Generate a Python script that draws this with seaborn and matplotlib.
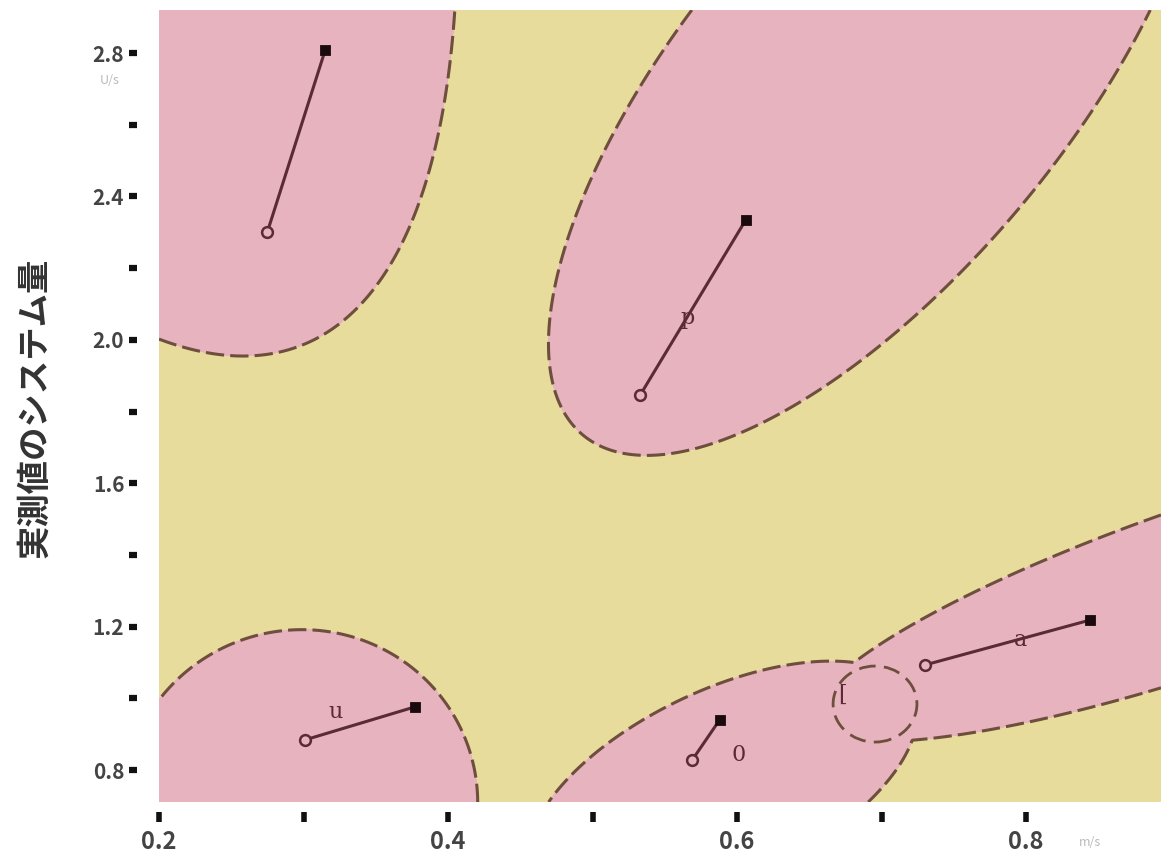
import numpy as np
import pandas as pd
import matplotlib
matplotlib.use("Agg")
import matplotlib.pyplot as plt
from matplotlib.patches import Ellipse
import seaborn as sns

# ---------------- data ----------------
# region blobs (centre x, centre y, semi-axis a, semi-axis b in x-units, angle deg)
blob_cx = [-0.0948, 0.6962, 0.2976, 0.590, 0.9278]
blob_cy = [6.030, 2.7163, 0.7024, 0.7562, 1.3155]
blob_a = [1.078, 0.317, 0.1232, 0.1453, 0.2907]
blob_b = [0.334, 0.1315, 0.1211, 0.0662, 0.0572]
blob_ang = [-68.6, 50.2, 20, 25.3, 18.8]

# segments: open start -> filled end
seg_x0 = [0.275, 0.533, 0.301, 0.569, 0.730]
seg_y0 = [2.301, 1.846, 0.884, 0.828, 1.093]
seg_x1 = [0.315, 0.606, 0.377, 0.588, 0.844]
seg_y1 = [2.808, 2.334, 0.976, 0.940, 1.218]

# point labels
lab_text = ["u", "p", "0", "a", "["]
lab_x = [0.322, 0.566, 0.601, 0.796, 0.673]
lab_y = [0.962, 2.061, 0.842, 1.163, 1.009]

# dashed circle
circ_x, circ_y, circ_w, circ_h = 0.6955, 0.984, 0.058, 0.212

x_major = [0.2, 0.4, 0.6, 0.8]
x_minor = [0.3, 0.5, 0.7]
y_major = [0.8, 1.2, 1.6, 2.0, 2.4, 2.8]
y_minor = [1.0, 1.4, 1.8, 2.2, 2.6]
xlim = (0.2, 0.8934)
ylim = (0.7108, 2.92)
ylabel = "実測値のシステム量"

PINK = "#e6b3bf"
YELLOW = "#e8dc9c"
EDGE = "#6e4e3c"
SEG = "#5a2a35"

# ---------------- figure ----------------
sns.set_theme(style="white")
plt.rcParams["font.family"] = ["Noto Sans CJK JP", "DejaVu Sans"]

fig = plt.figure(figsize=(11.61, 8.61), dpi=100)
ax = fig.add_axes([159 / 1161, 1 - 802 / 861, 1002 / 1161, 792 / 861])

aspect = 358.5 / 1445.0
gx = np.linspace(xlim[0], xlim[1], 800)
gy = np.linspace(ylim[0], ylim[1], 800)
X, Y = np.meshgrid(gx, gy)
F = np.full(X.shape, -np.inf)
for cx, cy, a, b, ang in zip(blob_cx, blob_cy, blob_a, blob_b, blob_ang):
    th = np.deg2rad(ang)
    dx = X - cx
    dy = (Y - cy) * aspect
    u = dx * np.cos(th) + dy * np.sin(th)
    v = -dx * np.sin(th) + dy * np.cos(th)
    F = np.maximum(F, 1 - (u / a) ** 2 - (v / b) ** 2)

ax.contourf(X, Y, F, levels=[-1e9, 0, 1e9], colors=[YELLOW, PINK])
cs = ax.contour(X, Y, F, levels=[0], colors=[EDGE], linewidths=2.2)
cs.set_linestyle((0, (6, 2)))

ax.add_patch(Ellipse((circ_x, circ_y), circ_w, circ_h, fill=False,
                     edgecolor=EDGE, lw=2, linestyle=(0, (6, 3))))

rows = []
for i in range(len(seg_x0)):
    rows.append(dict(seg=i, x=seg_x0[i], y=seg_y0[i]))
    rows.append(dict(seg=i, x=seg_x1[i], y=seg_y1[i]))
df = pd.DataFrame(rows)
sns.lineplot(data=df, x="x", y="y", units="seg", estimator=None, sort=False,
             color=SEG, lw=2.2, ax=ax)
sns.scatterplot(x=seg_x0, y=seg_y0, s=60, color=PINK, edgecolor=SEG,
                linewidth=1.8, ax=ax, zorder=5)
sns.scatterplot(x=seg_x1, y=seg_y1, s=55, marker="s", color="#1a0a0e",
                edgecolor="#1a0a0e", ax=ax, zorder=5)

for t, lx, ly in zip(lab_text, lab_x, lab_y):
    ax.text(lx, ly, t, fontsize=16, color=SEG, ha="center", va="center",
            family="DejaVu Serif")

ax.set_xlim(*xlim)
ax.set_ylim(*ylim)
ax.set_xlabel("")
ax.set_ylabel("")
for s in ax.spines.values():
    s.set_visible(False)
ax.spines["left"].set_position(("outward", 16))
ax.spines["bottom"].set_position(("outward", 7))

ax.set_xticks(x_major)
ax.set_xticks(x_minor, minor=True)
ax.set_yticks(y_major)
ax.set_yticks(y_minor, minor=True)
ax.set_xticklabels([f"{v:.1f}" for v in x_major])
ax.set_yticklabels([f"{v:.1f}" for v in y_major])
ax.tick_params(axis="both", which="both", direction="out", color="#111111",
               bottom=True, left=True, top=False, right=False)
ax.tick_params(axis="y", which="both", length=6, width=4.5, pad=3,
               labelsize=15, labelcolor="#444444")
ax.tick_params(axis="x", which="both", length=7, width=4, pad=6,
               labelsize=17, labelcolor="#444444")
for lbl in ax.get_xticklabels() + ax.get_yticklabels():
    lbl.set_fontweight("bold")

fig.text(35 / 1161, 1 - 408 / 861, ylabel, rotation=90, ha="center",
         va="center", fontsize=24, fontweight="bold", color="#333333")
fig.text(110 / 1161, 1 - 80 / 861, "U/s", fontsize=9, color="#bbbbbb",
         ha="center", va="center")
fig.text(1090 / 1161, 1 - 842 / 861, "m/s", fontsize=9, color="#bbbbbb",
         ha="center", va="center")

fig.savefig("out.png", dpi=100)
